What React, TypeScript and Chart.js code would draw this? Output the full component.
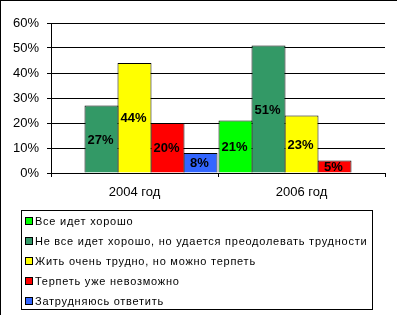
import React, { useEffect, useRef } from "react";
import { Chart, registerables } from "chart.js";

Chart.register(...registerables);

const categories = ["2004 год", "2006 год"];
const seriesNames = [
  "Все идет хорошо",
  "Не все идет хорошо, но удается преодолевать трудности",
  "Жить очень трудно, но можно терпеть",
  "Терпеть уже невозможно",
  "Затрудняюсь ответить",
];
const vseHorosho: (number | null)[] = [null, 21];
const neVseHorosho: (number | null)[] = [27, 51];
const zhitTrudno: (number | null)[] = [44, 23];
const terpetNevozmozhno: (number | null)[] = [20, 5];
const zatrudnyayus: (number | null)[] = [8, null];
const yTicks = [0, 10, 20, 30, 40, 50, 60];

const colors = ["#00FF00", "#339966", "#FFFF00", "#FF0000", "#3366FF"];
const FONT = "'Liberation Sans', Arial, sans-serif";

const decorPlugin = {
  id: "decor",
  afterDatasetsDraw(chart: any) {
    const ctx = chart.ctx;
    ctx.save();
    ctx.fillStyle = "#000";
    ctx.font = `bold 13px ${FONT}`;
    ctx.textAlign = "center";
    ctx.textBaseline = "middle";
    chart.data.datasets.forEach((ds: any, i: number) => {
      const meta = chart.getDatasetMeta(i);
      meta.data.forEach((el: any, j: number) => {
        const v = ds.data[j];
        if (v === null || v === undefined) return;
        ctx.fillText(v + "%", el.x - 1, (el.y + el.base) / 2 + 1);
      });
    });
    ctx.restore();
  },
  afterDraw(chart: any) {
    const ctx = chart.ctx;
    ctx.save();
    ctx.fillStyle = "#000";
    // outer frame (top and left)
    ctx.fillRect(0, 0, chart.width, 1);
    ctx.fillRect(0, 0, 1, chart.height);
    // legend box
    const lx = 21, ly = 210, lw = 351, lh = 99;
    ctx.strokeStyle = "#000";
    ctx.lineWidth = 1;
    ctx.strokeRect(lx + 0.5, ly + 0.5, lw, lh);
    ctx.font = `11px ${FONT}`;
    ctx.textAlign = "left";
    ctx.textBaseline = "middle";
    try { (ctx as any).letterSpacing = "0.75px"; } catch (e) {}
    chart.data.datasets.forEach((ds: any, i: number) => {
      const cy = ly + 11 + i * 20;
      ctx.fillStyle = ds.backgroundColor;
      ctx.fillRect(lx + 5, cy - 3, 6, 6);
      ctx.strokeRect(lx + 4.5, cy - 3.5, 7, 7);
      ctx.fillStyle = "#000";
      ctx.fillText(ds.label, lx + 14, cy + 1);
    });
    ctx.restore();
  },
};

export default function App() {
  const ref = useRef<HTMLCanvasElement>(null);
  useEffect(() => {
    if (!ref.current) return;
    const seriesData = [vseHorosho, neVseHorosho, zhitTrudno, terpetNevozmozhno, zatrudnyayus];
    const chart = new Chart(ref.current, {
      type: "bar",
      data: {
        labels: categories,
        datasets: seriesData.map((d, i) => ({
          label: seriesNames[i],
          data: d,
          backgroundColor: colors[i],
          borderColor: "#000",
          borderWidth: 1,
          categoryPercentage: 0.988,
          barPercentage: 1.03,
        })),
      },
      options: {
        responsive: false,
        animation: false,
        events: [],
        layout: { padding: { left: 0, top: 23, right: 12, bottom: 112 } },
        plugins: { legend: { display: false }, tooltip: { enabled: false } },
        scales: {
          x: {
            grid: { offset: true, drawOnChartArea: false, tickLength: 4, color: "#000" },
            border: { color: "#000" },
            ticks: { color: "#000", font: { family: FONT, size: 13 }, padding: 8 },
            afterFit: (s: any) => { s.height = 30; },
          },
          y: {
            min: 0,
            max: 60,
            afterBuildTicks: (s: any) => { s.ticks = yTicks.map((v) => ({ value: v })); },
            grid: { color: "#000", tickLength: 4 },
            border: { color: "#000" },
            ticks: {
              color: "#000",
              font: { family: FONT, size: 13 },
              padding: 8,
              callback: (v: any) => v + "%",
            },
            afterFit: (s: any) => { s.width = 51; },
          },
        },
      },
      plugins: [decorPlugin],
    });
    return () => chart.destroy();
  }, []);
  return (
    <div style={{ position: "absolute", left: 0, top: 0, width: 397, height: 315, background: "#fff" }}>
      <canvas ref={ref} width={397} height={315} />
    </div>
  );
}
